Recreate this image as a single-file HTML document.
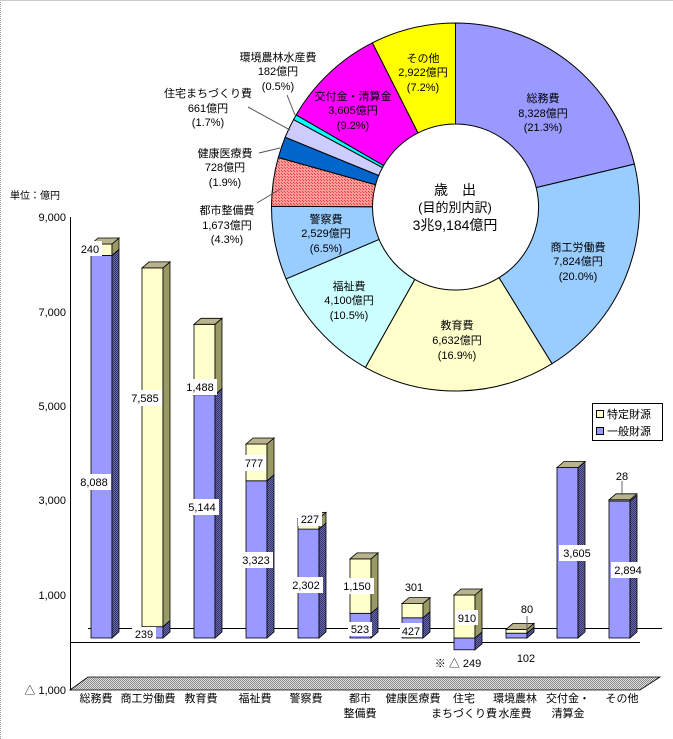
<!DOCTYPE html>
<html><head><meta charset="utf-8"><style>
html,body{margin:0;padding:0;background:#fff;}
svg{display:block;font-family:"Liberation Sans","Noto Sans CJK JP",sans-serif;}
</style></head><body>
<svg width="673" height="739" viewBox="0 0 673 739" xmlns="http://www.w3.org/2000/svg">
<defs>
<pattern id="hatch" width="3" height="3" patternUnits="userSpaceOnUse"><rect width="3" height="3" fill="#ff9a9a"/><rect width="1" height="1" fill="#e04040"/><rect x="2" y="2" width="1" height="1" fill="#e04040"/></pattern>
<pattern id="floor" width="2" height="2" patternUnits="userSpaceOnUse"><rect width="2" height="2" fill="#e0e0e0"/><rect width="1" height="1" fill="#888"/><rect x="1" y="1" width="1" height="1" fill="#888"/></pattern>
<pattern id="sideb" width="2" height="2" patternUnits="userSpaceOnUse"><rect width="2" height="2" fill="#6a6ab0"/><rect width="1" height="1" fill="#333366"/><rect x="1" y="1" width="1" height="1" fill="#333366"/></pattern>
</defs>
<rect width="673" height="739" fill="#fff"/>
<line x1="0.5" y1="0" x2="0.5" y2="739" stroke="#999" stroke-dasharray="1,1"/>
<line x1="0" y1="0.5" x2="673" y2="0.5" stroke="#ccc"/>

<g stroke="#000" stroke-width="1">
<path d="M455.5,23 A184,184 0 0 1 634.4,164.1 L536.2,187.6 A83,83 0 0 0 455.5,124 Z" fill="#9999ff"/>
<path d="M634.4,164.1 A184,184 0 0 1 552.0,363.7 L499.0,277.7 A83,83 0 0 0 536.2,187.6 Z" fill="#99ccff"/>
<path d="M552.0,363.7 A184,184 0 0 1 365.4,367.4 L414.8,279.4 A83,83 0 0 0 499.0,277.7 Z" fill="#ffffcc"/>
<path d="M365.4,367.4 A184,184 0 0 1 286.1,278.9 L379.1,239.4 A83,83 0 0 0 414.8,279.4 Z" fill="#ccffff"/>
<path d="M286.1,278.9 A184,184 0 0 1 271.5,206.3 L372.5,206.7 A83,83 0 0 0 379.1,239.4 Z" fill="#99ccff"/>
<path d="M271.5,206.3 A184,184 0 0 1 278.3,157.5 L375.6,184.7 A83,83 0 0 0 372.5,206.7 Z" fill="url(#hatch)"/>
<path d="M278.3,157.5 A184,184 0 0 1 285.2,137.2 L378.7,175.5 A83,83 0 0 0 375.6,184.7 Z" fill="#0066cc"/>
<path d="M285.2,137.2 A184,184 0 0 1 293.6,119.6 L382.5,167.6 A83,83 0 0 0 378.7,175.5 Z" fill="#ccccff"/>
<path d="M293.6,119.6 A184,184 0 0 1 296.2,114.9 L383.6,165.5 A83,83 0 0 0 382.5,167.6 Z" fill="#00ffff"/>
<path d="M296.2,114.9 A184,184 0 0 1 372.4,42.8 L418.0,132.9 A83,83 0 0 0 383.6,165.5 Z" fill="#ff00ff"/>
<path d="M372.4,42.8 A184,184 0 0 1 455.5,23 L455.5,124 A83,83 0 0 0 418.0,132.9 Z" fill="#ffff00"/>
</g>
<g font-size="11" text-anchor="middle" fill="#000">
<text x="543" y="102">総務費</text><text x="543" y="117">8,328億円</text><text x="543" y="131">(21.3%)</text>
<text x="578" y="251">商工労働費</text><text x="578" y="265">7,824億円</text><text x="578" y="280">(20.0%)</text>
<text x="457" y="329">教育費</text><text x="457" y="344">6,632億円</text><text x="457" y="359">(16.9%)</text>
<text x="349" y="290">福祉費</text><text x="349" y="304">4,100億円</text><text x="349" y="319">(10.5%)</text>
<text x="326" y="223">警察費</text><text x="326" y="237">2,529億円</text><text x="326" y="252">(6.5%)</text>
<text x="423" y="62">その他</text><text x="423" y="76">2,922億円</text><text x="423" y="91">(7.2%)</text>
<text x="353" y="100">交付金・清算金</text><text x="353" y="114">3,605億円</text><text x="353" y="129">(9.2%)</text>
<text x="278" y="61">環境農林水産費</text><text x="278" y="75">182億円</text><text x="278" y="90">(0.5%)</text>
<text x="208" y="97">住宅まちづくり費</text><text x="208" y="112">661億円</text><text x="208" y="126">(1.7%)</text>
<text x="225" y="157">健康医療費</text><text x="225" y="171">728億円</text><text x="225" y="186">(1.9%)</text>
<text x="227" y="214">都市整備費</text><text x="227" y="229">1,673億円</text><text x="227" y="243">(4.3%)</text>
<text x="455" y="195" font-size="14">歳　出</text>
<text x="455" y="212" font-size="13">(目的別内訳)</text>
<text x="455" y="230" font-size="14">3兆9,184億円</text>
</g>
<g stroke="#555" stroke-width="1">
<line x1="287" y1="95" x2="295" y2="115"/>
<line x1="248" y1="107" x2="290" y2="130"/>
<line x1="259" y1="153" x2="280" y2="148"/>
<line x1="257" y1="203" x2="282" y2="188"/>
</g>

<text x="10" y="199" font-size="10">単位：億円</text>
<g font-size="11" text-anchor="end">
<text x="66" y="221">9,000</text><text x="66" y="316">7,000</text><text x="66" y="410">5,000</text>
<text x="66" y="504">3,000</text><text x="66" y="599">1,000</text><text x="66" y="694">△ 1,000</text>
</g>
<line x1="70.5" y1="217" x2="70.5" y2="690" stroke="#000"/>
<polygon points="70,690 88,677 660,677 640,690" fill="url(#floor)" stroke="#000" stroke-width="0.8"/>
<line x1="88" y1="628.5" x2="662" y2="628.5" stroke="#000"/>
<line x1="70" y1="642.5" x2="640" y2="642.5" stroke="#000"/>

<g stroke="#000" stroke-width="0.8">
<rect x="91" y="255.4" width="21" height="382.6" fill="#9999ff"/><rect x="91" y="244" width="21" height="11.4" fill="#ffffcc"/>
<polygon points="112,255.4 119,249.4 119,632 112,638" fill="url(#sideb)"/><polygon points="112,244 119,238 119,249.4 112,255.4" fill="#999966"/><polygon points="91,244 98,238 119,238 112,244" fill="#b8b38c"/>
<rect x="142" y="626.7" width="21" height="11.3" fill="#9999ff"/><rect x="142" y="267.9" width="21" height="358.8" fill="#ffffcc"/>
<polygon points="163,626.7 170,620.7 170,632 163,638" fill="url(#sideb)"/><polygon points="163,267.9 170,261.9 170,620.7 163,626.7" fill="#999966"/><polygon points="142,267.9 149,261.9 170,261.9 163,267.9" fill="#b8b38c"/>
<rect x="194" y="394.7" width="21" height="243.3" fill="#9999ff"/><rect x="194" y="324.3" width="21" height="70.4" fill="#ffffcc"/>
<polygon points="215,394.7 222,388.7 222,632 215,638" fill="url(#sideb)"/><polygon points="215,324.3 222,318.3 222,388.7 215,394.7" fill="#999966"/><polygon points="194,324.3 201,318.3 222,318.3 215,324.3" fill="#b8b38c"/>
<rect x="246" y="480.8" width="21" height="157.2" fill="#9999ff"/><rect x="246" y="444" width="21" height="36.8" fill="#ffffcc"/>
<polygon points="267,480.8 274,474.8 274,632 267,638" fill="url(#sideb)"/><polygon points="267,444 274,438 274,474.8 267,480.8" fill="#999966"/><polygon points="246,444 253,438 274,438 267,444" fill="#b8b38c"/>
<rect x="298" y="529.1" width="21" height="108.9" fill="#9999ff"/><rect x="298" y="518.4" width="21" height="10.7" fill="#ffffcc"/>
<polygon points="319,529.1 326,523.1 326,632 319,638" fill="url(#sideb)"/><polygon points="319,518.4 326,512.4 326,523.1 319,529.1" fill="#999966"/><polygon points="298,518.4 305,512.4 326,512.4 319,518.4" fill="#b8b38c"/>
<rect x="350" y="613.3" width="21" height="24.7" fill="#9999ff"/><rect x="350" y="558.9" width="21" height="54.4" fill="#ffffcc"/>
<polygon points="371,613.3 378,607.3 378,632 371,638" fill="url(#sideb)"/><polygon points="371,558.9 378,552.9 378,607.3 371,613.3" fill="#999966"/><polygon points="350,558.9 357,552.9 378,552.9 371,558.9" fill="#b8b38c"/>
<rect x="402" y="617.8" width="21" height="20.2" fill="#9999ff"/><rect x="402" y="603.6" width="21" height="14.2" fill="#ffffcc"/>
<polygon points="423,617.8 430,611.8 430,632 423,638" fill="url(#sideb)"/><polygon points="423,603.6 430,597.6 430,611.8 423,617.8" fill="#999966"/><polygon points="402,603.6 409,597.6 430,597.6 423,603.6" fill="#b8b38c"/>
<rect x="454" y="638" width="21" height="11.8" fill="#9999ff"/><rect x="454" y="595" width="21" height="43" fill="#ffffcc"/>
<polygon points="475,638 482,632 482,643.8 475,649.8" fill="url(#sideb)"/><polygon points="475,595 482,589 482,632 475,638" fill="#999966"/><polygon points="454,595 461,589 482,589 475,595" fill="#b8b38c"/>
<rect x="506" y="633.2" width="21" height="4.8" fill="#9999ff"/><rect x="506" y="629.4" width="21" height="3.8" fill="#ffffcc"/>
<polygon points="527,633.2 534,627.2 534,632 527,638" fill="url(#sideb)"/><polygon points="527,629.4 534,623.4 534,627.2 527,633.2" fill="#999966"/><polygon points="506,629.4 513,623.4 534,623.4 527,629.4" fill="#b8b38c"/>
<rect x="557" y="467.5" width="21" height="170.5" fill="#9999ff"/>
<polygon points="578,467.5 585,461.5 585,632 578,638" fill="url(#sideb)"/><polygon points="557,467.5 564,461.5 585,461.5 578,467.5" fill="#b8b38c"/>
<rect x="609" y="501.1" width="21" height="136.9" fill="#9999ff"/><rect x="609" y="499.8" width="21" height="1.3" fill="#ffffcc"/>
<polygon points="630,501.1 637,495.1 637,632 630,638" fill="url(#sideb)"/><polygon points="609,499.8 616,493.8 637,493.8 630,499.8" fill="#b8b38c"/>
</g>
<g stroke="#666"><line x1="527" y1="616" x2="527" y2="630"/><line x1="622" y1="481" x2="622" y2="495"/></g>

<g font-size="11" text-anchor="middle">
<g fill="#fff">
<rect x="78" y="241" width="24" height="15"/><rect x="77" y="474" width="34" height="16"/>
<rect x="128" y="390" width="34" height="16"/><rect x="132" y="627" width="24" height="14"/>
<rect x="183" y="379" width="34" height="16"/><rect x="185" y="499" width="34" height="16"/>
<rect x="239" y="552" width="34" height="16"/><rect x="242" y="455" width="24" height="16"/>
<rect x="298" y="511" width="24" height="15"/><rect x="289" y="577" width="34" height="16"/>
<rect x="340" y="578" width="34" height="16"/><rect x="348" y="622" width="24" height="14"/>
<rect x="400" y="623" width="22" height="14"/><rect x="456" y="610" width="22" height="15"/>
<rect x="559" y="545" width="36" height="16"/><rect x="611" y="562" width="34" height="16"/>
</g>
<text x="90" y="253">240</text><text x="94" y="486">8,088</text>
<text x="145" y="402">7,585</text><text x="144" y="638">239</text>
<text x="200" y="391">1,488</text><text x="202" y="511">5,144</text>
<text x="256" y="564">3,323</text><text x="254" y="467">777</text>
<text x="310" y="523">227</text><text x="306" y="589">2,302</text>
<text x="357" y="590">1,150</text><text x="360" y="633">523</text>
<text x="414" y="591">301</text><text x="411" y="635">427</text>
<text x="467" y="622">910</text><text x="458" y="667">※ △ 249</text>
<text x="527" y="613">80</text><text x="526" y="662">102</text>
<text x="577" y="557">3,605</text><text x="628" y="574">2,894</text>
<text x="622" y="480">28</text>
</g>

<rect x="592.5" y="403.5" width="70" height="37" fill="#fff" stroke="#000"/>
<rect x="596.5" y="410.5" width="7" height="7" fill="#ffffcc" stroke="#000"/>
<rect x="596.5" y="427.5" width="7" height="7" fill="#9999ff" stroke="#000"/>
<text x="607" y="418" font-size="11">特定財源</text>
<text x="607" y="435" font-size="11">一般財源</text>

<g font-size="11" text-anchor="middle">
<text x="96" y="702">総務費</text><text x="148" y="702">商工労働費</text><text x="201" y="702">教育費</text>
<text x="255" y="702">福祉費</text><text x="306" y="702">警察費</text>
<text x="360" y="702">都市</text><text x="360" y="717">整備費</text>
<text x="413" y="702">健康医療費</text>
<text x="464" y="702">住宅</text><text x="464" y="717">まちづくり費</text>
<text x="515" y="702">環境農林</text><text x="515" y="717">水産費</text>
<text x="568" y="702">交付金・</text><text x="568" y="717">清算金</text>
<text x="622" y="702">その他</text>
</g>
</svg>
</body></html>
